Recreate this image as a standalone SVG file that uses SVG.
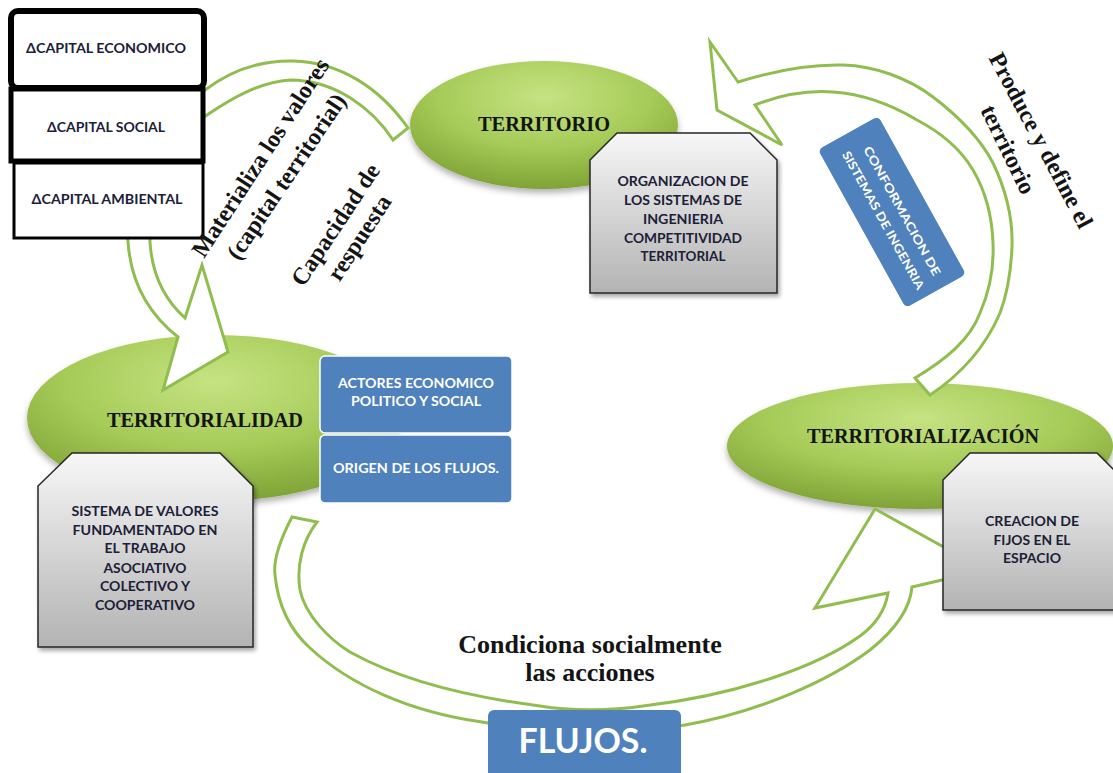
<svg xmlns="http://www.w3.org/2000/svg" width="1113" height="773" viewBox="0 0 1113 773">
<style>
.sans{font-family:Lato,"Open Sans","Liberation Sans",sans-serif;font-weight:700}
.serif{font-family:"Liberation Serif","Times New Roman",serif;font-weight:700}
.dark{fill:#1c2038}
.blk{fill:#141414}
.wht{fill:#ffffff}
.arrow{fill:#ffffff;stroke:#8fbe4f;stroke-width:3;stroke-linejoin:miter}
.ell{fill:url(#gEll)}
.gray{fill:url(#gGray);stroke:#262626;stroke-width:1.5}
.blue{fill:#4f81bd;stroke:#ffffff;stroke-width:1.5}
.cap{fill:#ffffff;stroke:#000000}
</style>
<defs>
<radialGradient id="gEll" cx="50%" cy="28%" r="72%">
<stop offset="0" stop-color="#c6e383"/>
<stop offset="0.55" stop-color="#a6cb58"/>
<stop offset="1" stop-color="#7fa336"/>
</radialGradient>
<linearGradient id="gGray" x1="0" y1="0" x2="0" y2="1">
<stop offset="0" stop-color="#f7f7f7"/>
<stop offset="1" stop-color="#b3b3b3"/>
</linearGradient>
<filter id="sh" x="-10%" y="-10%" width="130%" height="130%">
<feDropShadow dx="2" dy="3" stdDeviation="2" flood-color="#000" flood-opacity="0.35"/>
</filter>
<filter id="esh" x="-10%" y="-10%" width="120%" height="140%">
<feDropShadow dx="0" dy="4" stdDeviation="3" flood-color="#000" flood-opacity="0.3"/>
</filter>
</defs>

<g id="ellipses">
<g id="territorio-ell"><ellipse class="ell" filter="url(#esh)" cx="544" cy="125" rx="134" ry="64"/></g>
<g id="territorialidad-ell"><ellipse class="ell" filter="url(#esh)" cx="215" cy="418" rx="188" ry="83"/></g>
<g id="territorializacion-ell"><ellipse class="ell" filter="url(#esh)" cx="920" cy="446" rx="193" ry="63"/></g>
</g>

<g id="connectors">
<path id="arrow-materializa" class="arrow" d="M408,128 C380,88 340,62 293,61 C255,60 225,75 205,90 C160,125 125,185 128,242 C131,285 150,315 178,337 L163,390 L228,352 L202,265 L185,318 C165,300 152,275 150,242 C148,190 168,140 207,115 C232,98 260,82 290,80 C335,80 372,108 393,140 Z"/>
<path id="arrow-produce" class="arrow" d="M738,82 L710,42 L717,110 L782,145 L755,105 C778,96 805,90 833,92 C862,94 892,105 917,120 C940,132 960,148 973,170 C986,192 992,215 993,243 C994,265 990,290 980,313 C970,340 945,360 915,378 L930,395 C960,375 985,348 1000,313 C1008,292 1011,270 1012,247 C1013,218 1005,188 993,163 C980,138 958,116 933,97 C908,78 875,66 843,65 C805,64 770,72 738,82 Z"/>
<path id="arrow-condiciona" class="arrow" d="M292,517 C280,540 273,560 275,575 C278,605 290,630 310,648 C350,685 410,712 482,722 C540,733 620,735 685,725 C760,712 830,680 870,650 C895,630 910,610 912,587 L985,570 L875,509 L815,608 L888,593 C885,612 875,625 860,636 C820,665 740,695 643,706 C610,711 570,711 540,706 C470,697 400,680 350,652 C330,640 305,615 300,590 C296,565 303,540 317,522 Z"/>
</g>

<g id="capital-economico">
<rect class="cap" x="11" y="11" width="193" height="77" rx="7" stroke-width="6"/>
<text class="sans dark" x="106" y="53" font-size="14" text-anchor="middle" textLength="160" lengthAdjust="spacingAndGlyphs">ΔCAPITAL ECONOMICO</text>
</g>
<g id="capital-social">
<rect class="cap" x="11" y="89" width="192" height="72" stroke-width="5"/>
<text class="sans dark" x="106" y="132" font-size="14" text-anchor="middle" textLength="118" lengthAdjust="spacingAndGlyphs">ΔCAPITAL SOCIAL</text>
</g>
<g id="capital-ambiental">
<rect class="cap" x="14" y="163" width="189" height="75" stroke-width="3"/>
<text class="sans dark" x="107" y="204" font-size="14" text-anchor="middle" textLength="151" lengthAdjust="spacingAndGlyphs">ΔCAPITAL AMBIENTAL</text>
</g>

<g id="territorio">
<text class="serif blk" x="544" y="131" font-size="21" text-anchor="middle" textLength="132" lengthAdjust="spacingAndGlyphs">TERRITORIO</text>
</g>
<g id="organizacion">
<polygon class="gray" filter="url(#sh)" points="617,133 750,133 777,160 777,293 590,293 590,160"/>
<g class="sans dark" font-size="13" text-anchor="middle">
<text x="683" y="186" textLength="131" lengthAdjust="spacingAndGlyphs">ORGANIZACION DE</text>
<text x="683" y="205" textLength="118" lengthAdjust="spacingAndGlyphs">LOS SISTEMAS DE</text>
<text x="683" y="224" textLength="80" lengthAdjust="spacingAndGlyphs">INGENIERIA</text>
<text x="683" y="243" textLength="118" lengthAdjust="spacingAndGlyphs">COMPETITIVIDAD</text>
<text x="683" y="261" textLength="85" lengthAdjust="spacingAndGlyphs">TERRITORIAL</text>
</g>
</g>

<g id="territorialidad">
<text class="serif blk" x="205" y="427" font-size="21" text-anchor="middle" textLength="196" lengthAdjust="spacingAndGlyphs">TERRITORIALIDAD</text>
</g>
<g id="sistema-valores">
<polygon class="gray" filter="url(#sh)" points="72,453 220,453 253,486 253,647 38,647 38,486"/>
<g class="sans dark" font-size="13" text-anchor="middle">
<text x="145" y="516" textLength="147" lengthAdjust="spacingAndGlyphs">SISTEMA DE VALORES</text>
<text x="145" y="535" textLength="145" lengthAdjust="spacingAndGlyphs">FUNDAMENTADO EN</text>
<text x="145" y="553" textLength="81" lengthAdjust="spacingAndGlyphs">EL TRABAJO</text>
<text x="145" y="573" textLength="83" lengthAdjust="spacingAndGlyphs">ASOCIATIVO</text>
<text x="145" y="591" textLength="90" lengthAdjust="spacingAndGlyphs">COLECTIVO Y</text>
<text x="145" y="610" textLength="100" lengthAdjust="spacingAndGlyphs">COOPERATIVO</text>
</g>
</g>
<g id="actores">
<rect class="blue" x="320" y="356" width="192" height="77" rx="5"/>
<text class="sans wht" x="416" y="388" font-size="13.5" text-anchor="middle" textLength="156" lengthAdjust="spacingAndGlyphs">ACTORES ECONOMICO</text>
<text class="sans wht" x="416" y="406" font-size="13.5" text-anchor="middle" textLength="130" lengthAdjust="spacingAndGlyphs">POLITICO Y SOCIAL</text>
</g>
<g id="origen">
<rect class="blue" x="320" y="435" width="192" height="68" rx="5"/>
<text class="sans wht" x="416" y="473" font-size="13.5" text-anchor="middle" textLength="166" lengthAdjust="spacingAndGlyphs">ORIGEN DE LOS FLUJOS.</text>
</g>

<g id="territorializacion">
<text class="serif blk" x="923" y="443" font-size="21" text-anchor="middle" textLength="232" lengthAdjust="spacingAndGlyphs">TERRITORIALIZACIÓN</text>
</g>
<g id="creacion">
<polygon class="gray" filter="url(#sh)" points="970,453 1097,453 1124,480 1124,610 943,610 943,480"/>
<g class="sans dark" font-size="13" text-anchor="middle">
<text x="1032" y="526" textLength="94" lengthAdjust="spacingAndGlyphs">CREACION DE</text>
<text x="1032" y="545" textLength="77" lengthAdjust="spacingAndGlyphs">FIJOS EN EL</text>
<text x="1032" y="563" textLength="58" lengthAdjust="spacingAndGlyphs">ESPACIO</text>
</g>
</g>

<g id="conformacion" transform="translate(892,212) rotate(61)">
<rect x="-90.5" y="-34.5" width="181" height="69" rx="5" fill="#4f81bd"/>
<text class="sans wht" x="4" y="-5" font-size="12" text-anchor="middle" textLength="146" lengthAdjust="spacingAndGlyphs">CONFORMACION DE</text>
<text class="sans wht" x="3" y="16" font-size="12" text-anchor="middle" textLength="156" lengthAdjust="spacingAndGlyphs">SISTEMAS DE INGENRIA</text>
</g>

<g id="flujos">
<rect x="488" y="710" width="193" height="75" rx="6" fill="#4f81bd"/>
<text class="sans wht" x="583" y="753" font-size="35" text-anchor="middle" textLength="129" lengthAdjust="spacingAndGlyphs">FLUJOS.</text>
</g>

<g id="labels" class="serif blk" font-size="24" text-anchor="middle">
<text transform="translate(267,162) rotate(-57)">Materializa los valores</text>
<text transform="translate(293,181) rotate(-56)">(capital territorial)</text>
<text transform="translate(342,229) rotate(-56.5)">Capacidad de</text>
<text transform="translate(366,242) rotate(-57)">respuesta</text>
<text transform="translate(1034,144) rotate(62)">Produce y define el</text>
<text transform="translate(1001,153) rotate(64)">territorio</text>
<text x="590" y="653" font-size="26">Condiciona socialmente</text>
<text x="590" y="681" font-size="26">las acciones</text>
</g>
</svg>
